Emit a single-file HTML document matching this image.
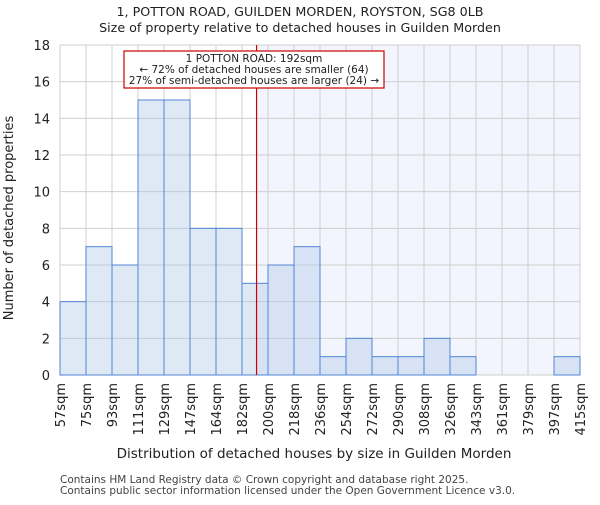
<!DOCTYPE html>
<html><head><meta charset="utf-8"><style>
body{margin:0;background:#fff;font-family:"Liberation Sans","DejaVu Sans",sans-serif}
svg text{font-family:"DejaVu Sans","Liberation Sans",sans-serif}
</style></head><body>
<svg id="chart" width="600" height="500">
<text x="300" y="16" text-anchor="middle" font-size="12.7" fill="#222">1, POTTON ROAD, GUILDEN MORDEN, ROYSTON, SG8 0LB</text>
<text x="300" y="32" text-anchor="middle" font-size="12.7" fill="#222">Size of property relative to detached houses in Guilden Morden</text>
<g id="plot"></g>
<text x="314" y="458" text-anchor="middle" font-size="13.5" fill="#222">Distribution of detached houses by size in Guilden Morden</text>
<text transform="translate(13,218) rotate(-90)" text-anchor="middle" font-size="13" fill="#222">Number of detached properties</text>
<text x="60" y="483" font-size="10.5" fill="#444">Contains HM Land Registry data © Crown copyright and database right 2025.</text>
<text x="60" y="494" font-size="10.5" fill="#444">Contains public sector information licensed under the Open Government Licence v3.0.</text>
</svg>
<script>
const binLabels=["57sqm","75sqm","93sqm","111sqm","129sqm","147sqm","164sqm","182sqm","200sqm","218sqm","236sqm","254sqm","272sqm","290sqm","308sqm","326sqm","343sqm","361sqm","379sqm","397sqm","415sqm"];
const counts=[4,7,6,15,15,8,8,5,6,7,1,2,1,1,2,1,0,0,0,1];
const yTicks=[0,2,4,6,8,10,12,14,16,18];
const propertyBinPos=7.56;
const annotationLines=["1 POTTON ROAD: 192sqm","← 72% of detached houses are smaller (64)","27% of semi-detached houses are larger (24) →"];

const NS="http://www.w3.org/2000/svg";
const L=60,R=580,T=45,B=375,yMax=18;
const n=counts.length;
const bw=(R-L)/n;
const x=i=>L+i*bw;
const y=v=>B-v/yMax*(B-T);
const g=document.getElementById('plot');
function mk(t,a){const e=document.createElementNS(NS,t);for(const k in a)e.setAttribute(k,a[k]);g.appendChild(e);return e;}
const px=x(propertyBinPos);
let e=mk('rect',{x:px,y:T,width:R-px,height:B-T,fill:'#f2f5fd'});


for(let i=0;i<=n;i++){e=mk('line',{x1:x(i),x2:x(i),y1:T,y2:B,stroke:'#cfcfcf','stroke-width':1});

}
yTicks.forEach(v=>{e=mk('line',{x1:L,x2:R,y1:y(v),y2:y(v),stroke:'#cfcfcf','stroke-width':1});


e=mk('text',{x:L-10,y:y(v)+5,'text-anchor':'end','font-size':13,fill:'#222'});e.textContent=v;

});
counts.forEach((c,i)=>{if(c<=0)return;
e=mk('rect',{x:x(i),y:y(c),width:bw,height:B-y(c),fill:'rgba(170,195,230,0.38)',stroke:'#4f86d4','stroke-width':1});

});
binLabels.forEach((s,i)=>{e=mk('text',{transform:`translate(${x(i)+5},383) rotate(-90)`,'text-anchor':'end','font-size':13,fill:'#222'});e.textContent=s;

});
e=mk('line',{x1:px,x2:px,y1:T,y2:B,stroke:'#cc0000','stroke-width':1.2});


e=mk('rect',{x:124,y:51,width:260,height:37,fill:'#fff',stroke:'#cc0000','stroke-width':1.2});


annotationLines.forEach((s,i)=>{e=mk('text',{x:254,y:62+i*11,'text-anchor':'middle','font-size':10.5,fill:'#222'});e.textContent=s;

});
</script>
</body></html>
